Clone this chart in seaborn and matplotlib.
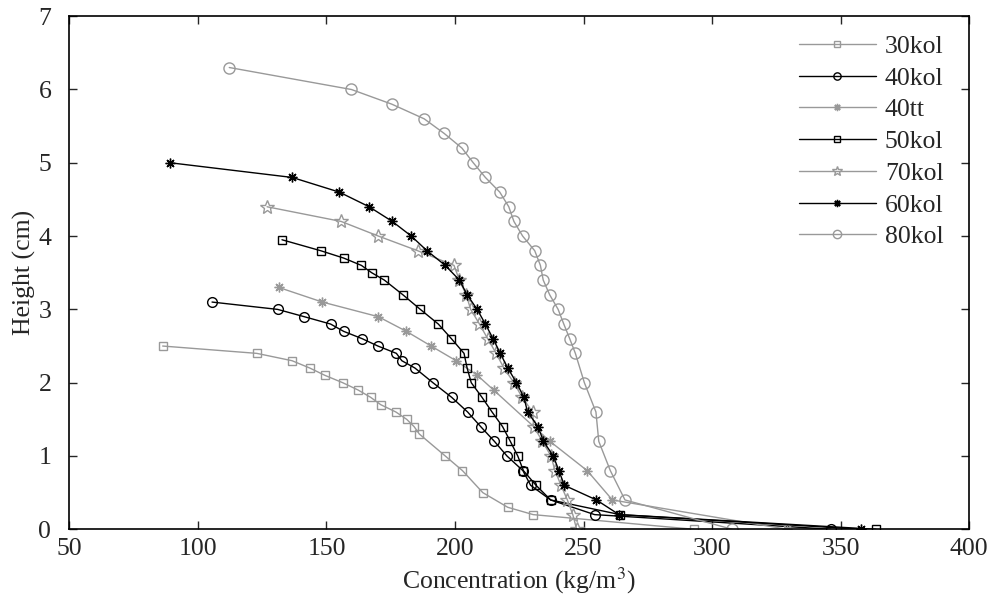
import matplotlib
matplotlib.use("Agg")
import matplotlib.pyplot as plt
import seaborn as sns

# values
x_30kol = [86.3, 122.9, 136.6, 143.5, 149.4, 156.3, 162.3, 167.2, 171.1, 177.0, 181.2,
           184.1, 186.1, 196.2, 202.9, 210.8, 220.5, 230.4, 292.9]
h_30kol = [2.5, 2.4, 2.3, 2.2, 2.1, 2.0, 1.9, 1.8, 1.7, 1.6, 1.5,
           1.4, 1.3, 1.0, 0.8, 0.5, 0.3, 0.2, 0.0]

x_40kol = [105.5, 131.0, 141.4, 151.6, 156.7, 163.9, 170.0, 177.2, 179.3, 184.4, 191.4,
           198.7, 204.9, 210.0, 215.3, 220.2, 226.4, 229.4, 237.2, 254.3, 346.2]
h_40kol = [3.1, 3.0, 2.9, 2.8, 2.7, 2.6, 2.5, 2.4, 2.3, 2.2, 2.0,
           1.8, 1.6, 1.4, 1.2, 1.0, 0.8, 0.6, 0.4, 0.2, 0.0]

x_40tt = [131.4, 148.4, 170.2, 181.1, 190.7, 200.4, 208.7, 215.0, 236.9, 251.4, 261.2, 329.2]
h_40tt = [3.3, 3.1, 2.9, 2.7, 2.5, 2.3, 2.1, 1.9, 1.2, 0.8, 0.4, 0.0]

x_50kol = [132.7, 147.8, 156.7, 163.6, 167.6, 172.5, 179.7, 186.5, 193.5, 198.6, 203.5, 204.7,
           206.3, 210.5, 214.4, 218.5, 221.5, 224.4, 226.6, 231.5, 237.2, 264.2, 363.7]
h_50kol = [3.95, 3.8, 3.7, 3.6, 3.5, 3.4, 3.2, 3.0, 2.8, 2.6, 2.4, 2.2,
           2.0, 1.8, 1.6, 1.4, 1.2, 1.0, 0.8, 0.6, 0.4, 0.2, 0.0]

x_70kol = [126.9, 155.7, 170.2, 185.5, 199.6, 201.7, 204.3, 206.1, 209.5, 212.7, 216.0, 219.0,
           222.9, 226.1, 230.2, 230.6, 234.0, 237.3, 238.9, 241.2, 243.7, 245.8, 247.3]
h_70kol = [4.4, 4.2, 4.0, 3.8, 3.6, 3.4, 3.2, 3.0, 2.8, 2.6, 2.4, 2.2,
           2.0, 1.8, 1.6, 1.4, 1.2, 1.0, 0.8, 0.6, 0.4, 0.2, 0.0]

x_60kol = [89.3, 136.7, 155.0, 166.6, 175.6, 183.0, 189.1, 196.2, 201.7, 204.7, 208.6, 211.8, 214.8,
           217.6, 220.5, 223.9, 226.8, 228.2, 232.3, 234.4, 238.2, 240.4, 242.5, 255.0, 263.8, 357.9]
h_60kol = [5.0, 4.8, 4.6, 4.4, 4.2, 4.0, 3.8, 3.6, 3.4, 3.2, 3.0, 2.8, 2.6,
           2.4, 2.2, 2.0, 1.8, 1.6, 1.4, 1.2, 1.0, 0.8, 0.6, 0.4, 0.2, 0.0]

x_80kol = [112.2, 159.7, 175.4, 188.0, 195.8, 202.7, 207.1, 211.8, 217.4, 220.9, 222.9, 226.3, 231.0,
           233.2, 234.3, 236.8, 240.1, 242.3, 244.6, 246.8, 250.3, 254.8, 255.9, 260.4, 266.1, 307.8]
h_80kol = [6.3, 6.0, 5.8, 5.6, 5.4, 5.2, 5.0, 4.8, 4.6, 4.4, 4.2, 4.0, 3.8,
           3.6, 3.4, 3.2, 3.0, 2.8, 2.6, 2.4, 2.0, 1.6, 1.2, 0.8, 0.4, 0.0]

labels = ["30kol", "40kol", "40tt", "50kol", "70kol", "60kol", "80kol"]

sns.set_style("ticks")
plt.rcParams["font.family"] = ["Liberation Serif", "DejaVu Serif"]
plt.rcParams["mathtext.fontset"] = "stix"

GRAY = "#999999"
ASTER = (8, 2, 0)  # matlab-like asterisk

series = [
    (x_30kol, h_30kol, GRAY, "s", 5.5),
    (x_40kol, h_40kol, "black", "o", 7),
    (x_40tt, h_40tt, GRAY, ASTER, 7),
    (x_50kol, h_50kol, "black", "s", 5.5),
    (x_70kol, h_70kol, GRAY, "*", 10),
    (x_60kol, h_60kol, "black", ASTER, 7),
    (x_80kol, h_80kol, GRAY, "o", 8),
]

fig = plt.figure(figsize=(9.92, 6.09), dpi=100)
ax = fig.add_axes([0.0699, 0.1309, 0.9072, 0.8425])

for (xs, hs, col, mk, ms), lab in zip(series, labels):
    sns.lineplot(x=xs, y=hs, ax=ax, sort=False, color=col, marker=mk,
                 markersize=ms, markerfacecolor="none", markeredgecolor=col,
                 markeredgewidth=1.0, linewidth=1.0, label=lab, legend=False)

ax.set_xlim(50, 400)
ax.set_ylim(0, 7)
ax.set_xticks(range(50, 401, 50))
ax.set_yticks(range(0, 8))
ax.tick_params(direction="in", length=6, width=1, top=True, right=True,
               labelsize=18.5)
ax.tick_params(axis="x", pad=6)
ax.tick_params(axis="y", pad=13)
for sp in ax.spines.values():
    sp.set_visible(True)
    sp.set_linewidth(1.2)
    sp.set_color("black")

ax.set_xlabel("Concentration (kg/m$^3$)", fontsize=18.5)
ax.set_ylabel("Height (cm)", fontsize=18.5, labelpad=2)

ax.legend(loc="upper right", bbox_to_anchor=(1.0, 1.0136), frameon=False,
          fontsize=18.5, handlelength=3.0, labelspacing=0.34,
          borderaxespad=0.6, handletextpad=0.35, markerscale=0.75)

fig.savefig("out.png", dpi=100)
